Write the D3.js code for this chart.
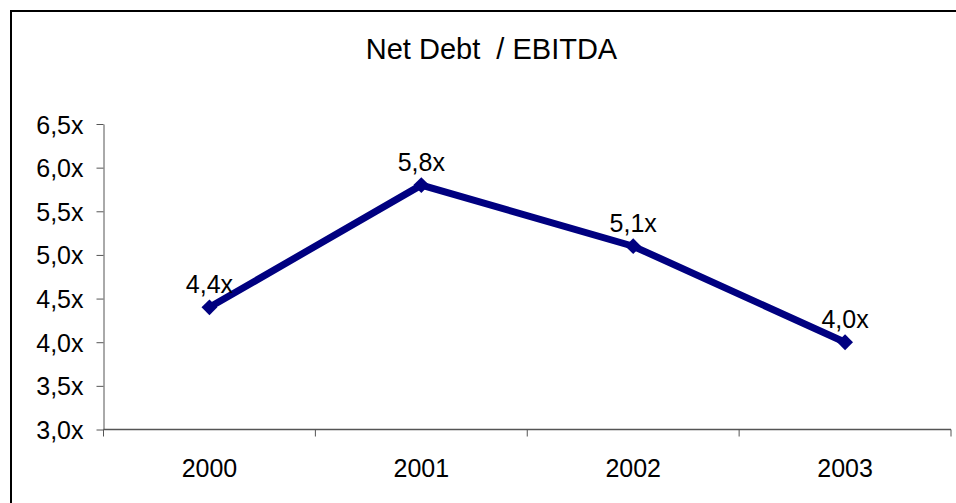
<!DOCTYPE html>
<html>
<head>
<meta charset="utf-8">
<script src="https://cdn.jsdelivr.net/npm/d3@7"></script>
<style>
    body { margin: 0; background: #fff; }
    svg { display: block; font-family: "Liberation Sans", Arial, sans-serif; }
    .axis text { font-size: 25px; fill: #000; }
    .axis path, .axis line { stroke: #555; }
</style>
</head>
<body>
<div id="chart"></div>
<script>
const years = ['2000', '2001', '2002', '2003'];
const ratios = [4.4, 5.8, 5.1, 4.0];
const yTicks = [3.0, 3.5, 4.0, 4.5, 5.0, 5.5, 6.0, 6.5];

const config = {
    width: 956,
    height: 503,
    margin: { top: 124, right: 5, bottom: 73.5, left: 103.5 }
};

const fmt = v => d3.format('.1f')(v).replace('.', ',') + 'x';

const svg = d3.select('#chart').append('svg')
    .attr('width', config.width)
    .attr('height', config.height);

svg.append('rect')
    .attr('width', config.width)
    .attr('height', config.height)
    .attr('fill', '#fff');

// outer frame (open on right and bottom, as cropped)
svg.append('path')
    .attr('d', `M11,${config.height} V11 H${config.width}`)
    .attr('fill', 'none')
    .attr('stroke', '#000')
    .attr('stroke-width', 2);

const innerW = config.width - config.margin.left - config.margin.right;
const innerH = config.height - config.margin.top - config.margin.bottom;

const chart = svg.append('g')
    .attr('transform', `translate(${config.margin.left},${config.margin.top})`);

const xScale = d3.scaleBand().domain(years).range([0, innerW]);
const yScale = d3.scaleLinear().domain([3, 6.5]).range([innerH, 0]);

// y axis
const yAxisG = chart.append('g')
    .attr('class', 'axis y-axis')
    .call(d3.axisLeft(yScale).tickValues(yTicks).tickSize(7).tickSizeOuter(0).tickPadding(13).tickFormat(fmt));
yAxisG.selectAll('text').attr('dy', '0.36em');

// x axis: labels at band centres, ticks at band boundaries
const xAxisG = chart.append('g')
    .attr('class', 'axis x-axis')
    .attr('transform', `translate(0,${innerH})`);

xAxisG.append('line')
    .attr('x1', 0).attr('x2', xScale.range()[1])
    .attr('stroke-width', 1.5);

xAxisG.selectAll('.bound')
    .data(years.map(d => xScale(d)).concat([xScale.range()[1]]))
    .join('line')
    .attr('class', 'bound')
    .attr('x1', d => d).attr('x2', d => d)
    .attr('y1', 0).attr('y2', 7);

xAxisG.selectAll('.xlabel')
    .data(years)
    .join('text')
    .attr('class', 'xlabel')
    .attr('x', d => xScale(d) + xScale.bandwidth() / 2)
    .attr('y', 47)
    .attr('text-anchor', 'middle')
    .text(d => d);

// line
const cx = (d, i) => xScale(years[i]) + xScale.bandwidth() / 2;
const line = d3.line()
    .x((d, i) => cx(d, i))
    .y(d => yScale(d));

chart.append('path')
    .datum(ratios)
    .attr('fill', 'none')
    .attr('stroke', '#000080')
    .attr('stroke-width', 7)
    .attr('stroke-linejoin', 'miter')
    .attr('d', line);

chart.selectAll('.marker')
    .data(ratios)
    .join('path')
    .attr('class', 'marker')
    .attr('d', d3.symbol(d3.symbolDiamond2, 160)())
    .attr('transform', (d, i) => `translate(${cx(d, i)},${yScale(d)})`)
    .attr('fill', '#000080');

chart.selectAll('.value-label')
    .data(ratios)
    .join('text')
    .attr('class', 'value-label')
    .attr('x', (d, i) => cx(d, i))
    .attr('y', d => yScale(d) - 14)
    .attr('text-anchor', 'middle')
    .style('font-size', '25px')
    .text(fmt);

// title
svg.append('text')
    .attr('x', 491.5)
    .attr('y', 59)
    .attr('text-anchor', 'middle')
    .style('font-size', '29px')
    .text('Net Debt  / EBITDA')
    .attr('xml:space', 'preserve')
    .style('white-space', 'pre');
</script>
</body>
</html>
